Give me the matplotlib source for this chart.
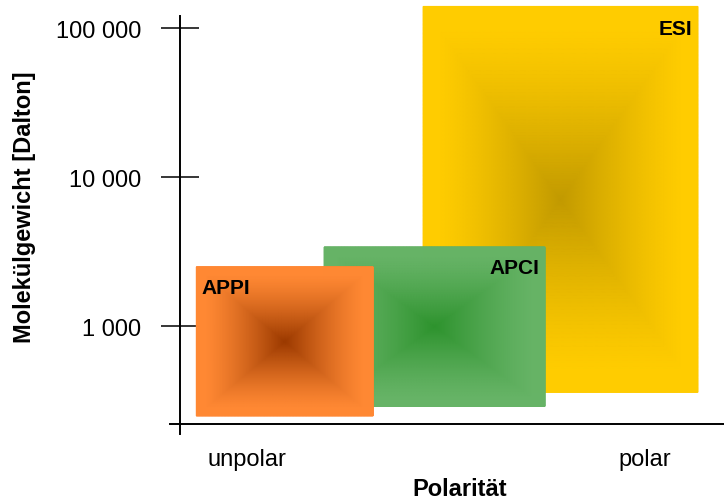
import matplotlib.pyplot as plt
from matplotlib.colors import LinearSegmentedColormap
import numpy as np

plt.rcParams['font.family'] = ['Liberation Sans', 'DejaVu Sans']

# Bereiche der Ionisierungsmethoden (Polarität 0..100, Masse in Dalton)
methods = ['ESI', 'APCI', 'APPI']
x_lo = [44.7, 26.5, 3.0]
x_hi = [95.2, 67.1, 35.5]
m_lo = [360, 290, 250]
m_hi = [140000, 3400, 2500]
edge_colors = ['#ffcc00', '#66b366', '#ff8833']
center_colors = ['#c29a00', '#2e932e', '#9c3a00']

yticks = [1000, 10000, 100000]
ytick_labels = ['1 000', '10 000', '100 000']
xlabels = ['unpolar', 'polar']
xlabel_pos = [12.3, 85.5]

W, H = 724, 502
fig = plt.figure(figsize=(W / 100, H / 100), dpi=100)
ax = fig.add_axes([180 / W, (H - 435) / H, 544 / W, 435 / H])
ax.set_yscale('log')
ax.set_xlim(0, 100)
ax.set_ylim(189, 157000)

for i, name in enumerate(methods):
    xs = np.linspace(x_lo[i], x_hi[i], 300)
    ys = np.logspace(np.log10(m_lo[i]), np.log10(m_hi[i]), 300)
    g = np.abs(np.linspace(-1, 1, 300))
    d = np.maximum(g[None, :], g[:, None])
    t = np.clip(d / 0.9, 0, 1)
    val = 1 - (1 - t) ** 1.3
    cmap = LinearSegmentedColormap.from_list(name, [center_colors[i], edge_colors[i]])
    ax.pcolormesh(xs, ys, val, cmap=cmap, vmin=0, vmax=1, shading='gouraud',
                  zorder=2 + i, rasterized=True)

ax.text(x_hi[0] - 1, m_hi[0] * 0.82, 'ESI', ha='right', va='top',
        fontsize=15, fontweight='bold', zorder=10)
ax.text(x_hi[1] - 1, m_hi[1] * 0.84, 'APCI', ha='right', va='top',
        fontsize=15, fontweight='bold', zorder=10)
ax.text(x_lo[2] + 1.0, m_hi[2] * 0.84, 'APPI', ha='left', va='top',
        fontsize=15, fontweight='bold', zorder=10)

# Achsen
for s in ['top', 'right', 'bottom']:
    ax.spines[s].set_visible(False)
ax.spines['left'].set_linewidth(1.4)
ax.spines['left'].set_bounds(189, 120000)
ax.spines['left'].set_zorder(1)
ax.plot([-1.8, 100], [221, 221], color='black', lw=1.4, clip_on=False, zorder=1)

ax.set_yticks(yticks)
ax.set_yticklabels(ytick_labels)
ax.yaxis.set_minor_locator(plt.NullLocator())
ax.tick_params(axis='y', direction='inout', length=28, width=1.1, pad=14, labelsize=17)
ax.set_xticks([])

for lab, xp in zip(xlabels, xlabel_pos):
    ax.text(xp, -0.057, lab, transform=ax.get_xaxis_transform(), ha='center', va='center',
            fontsize=17, clip_on=False)

fig.text(460 / W, 1 - 490 / H, 'Polarität', ha='center', va='center', fontsize=17, fontweight='bold')
fig.text(25 / W, 1 - 207 / H, 'Molekülgewicht [Dalton]', rotation=90, ha='center', va='center',
         fontsize=17, fontweight='bold')

fig.savefig('out.png', dpi=100)
